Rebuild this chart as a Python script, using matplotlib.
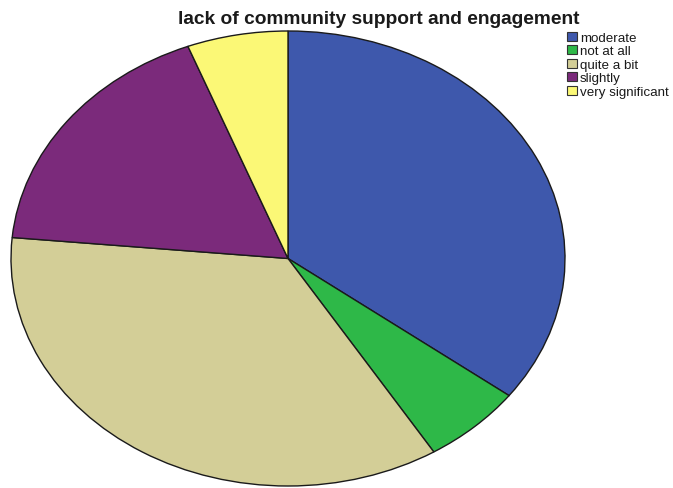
import matplotlib
matplotlib.use("Agg")
import matplotlib.pyplot as plt
from matplotlib.patches import Rectangle

labels = ["moderate", "not at all", "quite a bit", "slightly", "very significant"]
counts = [6, 1, 6, 3, 1]
colors = ["#3E58AC", "#2EB848", "#D3CE97", "#7B2A7B", "#FBF876"]
title = "lack of community support and engagement"

plt.rcParams['font.family'] = ['Liberation Sans', 'DejaVu Sans']

W, H = 673, 489
fig = plt.figure(figsize=(W / 100, H / 100), dpi=100)
ax = fig.add_axes([0, 0, 1, 1])

wedges, _ = ax.pie(counts, colors=colors, startangle=90, counterclock=False,
                   radius=1, center=(0, 0),
                   wedgeprops=dict(edgecolor="#1a1a1a", linewidth=1.0))

# stretch the pie into the ellipse seen in the reference
cx, cy, rx, ry = 288, 259.5, 277, 227.5
ax.set_aspect('auto')
ax.set_xlim(-cx / rx, (W - cx) / rx)
ax.set_ylim(-(H - cy) / ry, cy / ry)
ax.axis('off')

fig.text(379 / W, 1 - 19 / H, title, ha='center', va='center',
         fontsize=13.8, fontweight='bold', color='#1a1a1a')

# legend drawn by hand so the rows sit where the reference has them
row0, step = 37.5, 13.4
for i, (lab, col) in enumerate(zip(labels, colors)):
    yc = row0 + i * step
    fig.add_artist(Rectangle((567 / W, 1 - (yc + 4.5) / H), 10 / W, 9 / H,
                             transform=fig.transFigure, facecolor=col,
                             edgecolor='#333333', linewidth=0.8))
    fig.text(580 / W, 1 - yc / H, lab, ha='left', va='center_baseline',
             fontsize=9.6, color='#1a1a1a')

fig.savefig("out.png", dpi=100)
